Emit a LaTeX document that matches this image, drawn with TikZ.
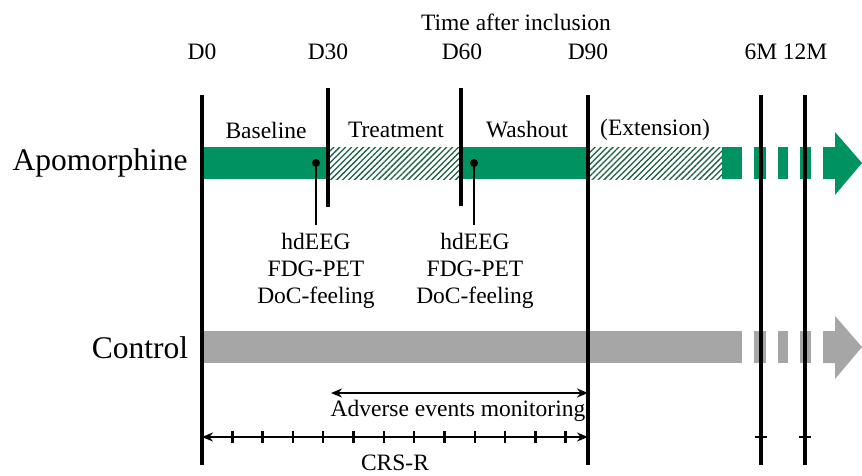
\documentclass[tikz,border=0pt]{standalone}
\usepackage{fontspec}
\setmainfont{Liberation Serif}
\usetikzlibrary{arrows.meta,positioning,patterns.meta}
\definecolor{apogreen}{RGB}{0,146,96}
\definecolor{hatchgreen}{RGB}{25,95,65}
\definecolor{ctrlgray}{RGB}{166,166,166}

\begin{document}
\begin{tikzpicture}[x=1pt,y=-1pt,>={Stealth[length=11pt,width=9pt]},semithick]
\tikzstyle{lbl}=[inner sep=0pt,font=\fontsize{23.5}{27}\selectfont,align=center]
\tikzstyle{arm}=[inner sep=0pt,font=\fontsize{31.5}{34}\selectfont]
\tikzstyle{tline}=[draw=black,line width=3.2pt]
\tikzstyle{hatch}=[pattern={Lines[angle=45,distance=4.2pt,line width=1.3pt]},pattern color=hatchgreen]
\tikzstyle{tick}=[line width=2.4pt]
\useasboundingbox (0,0) rectangle (862,475);

% apomorphine arm
\fill[apogreen] (202,147) rectangle (328,179);
\fill[hatch] (328,147) rectangle (461,179);
\fill[apogreen] (461,147) rectangle (588,179);
\fill[hatch] (588,147) rectangle (722,179);
\foreach \a/\b in {722/742,754/766,778/788,800/811}
  \fill[apogreen] (\a,147) rectangle (\b,179);
\fill[apogreen] (823,147) -- (835,147) -- (835,132) -- (862,163) -- (835,195) -- (835,179) -- (823,179) -- cycle;

% control arm
\fill[ctrlgray] (202,331) rectangle (742,363);
\foreach \a/\b in {754/766,778/788,800/811}
  \fill[ctrlgray] (\a,331) rectangle (\b,363);
\fill[ctrlgray] (823,331) -- (835,331) -- (835,316) -- (862,347) -- (835,379) -- (835,363) -- (823,363) -- cycle;

\node[arm] (apo) at (100,163) {Apomorphine};
\node[arm] (ctrl) at (140,348) {Control};

% time axis
\node[lbl] (time) at (516,22) {Time after inclusion};
\node[lbl] (d0) at (202,52) {D0};
\node[lbl] (d30) at (328,52) {D30};
\node[lbl] (d60) at (462,52) {D60};
\node[lbl] (d90) at (588,52) {D90};
\node[lbl] (m6) at (761,52) {6M};
\node[lbl] (m12) at (805,52) {12M};

\draw[tline] (202,95) -- (202,465);
\draw[tline] (328,88) -- (328,207);
\draw[tline] (461,88) -- (461,206);
\draw[tline] (588,95) -- (588,465);
\draw[tline] (761,95) -- (761,465);
\draw[tline] (805,95) -- (805,465);

\node[lbl] (base) at (266,130) {Baseline};
\node[lbl] (treat) at (396,130) {Treatment};
\node[lbl] (wash) at (527,130) {Washout};
\node[lbl] (ext) at (655,130) {(Extension)};

% exams
\coordinate (e1) at (316,163);
\coordinate (e2) at (474,163);
\fill (e1) circle (4);
\fill (e2) circle (4);
\node[lbl] (exam1) at (316,271) {hdEEG\\FDG-PET\\DoC-feeling};
\node[lbl] (exam2) at (475,271) {hdEEG\\FDG-PET\\DoC-feeling};
\draw[line width=2.4pt] (e1) -- (316,225);
\draw[line width=2.4pt] (e2) -- (474,225);

% monitoring
\coordinate (ae1) at (331,393);
\coordinate (ae2) at (588,393);
\draw[<->,line width=2.2pt] (ae1) -- (ae2);
\node[lbl] (ae) at (458,411) {Adverse events monitoring};

\coordinate (crs1) at (202,437);
\coordinate (crs2) at (588,437);
\draw[<->,line width=2.2pt] (crs1) -- (crs2);
\foreach \i in {1,...,12}
  \draw[tick] ({202+\i*30.3},431) -- ({202+\i*30.3},443);
\draw[tick] (755,437) -- (767,437);
\draw[tick] (799,437) -- (811,437);
\node[lbl] (crs) at (395,463) {CRS-R};
\end{tikzpicture}
\end{document}
